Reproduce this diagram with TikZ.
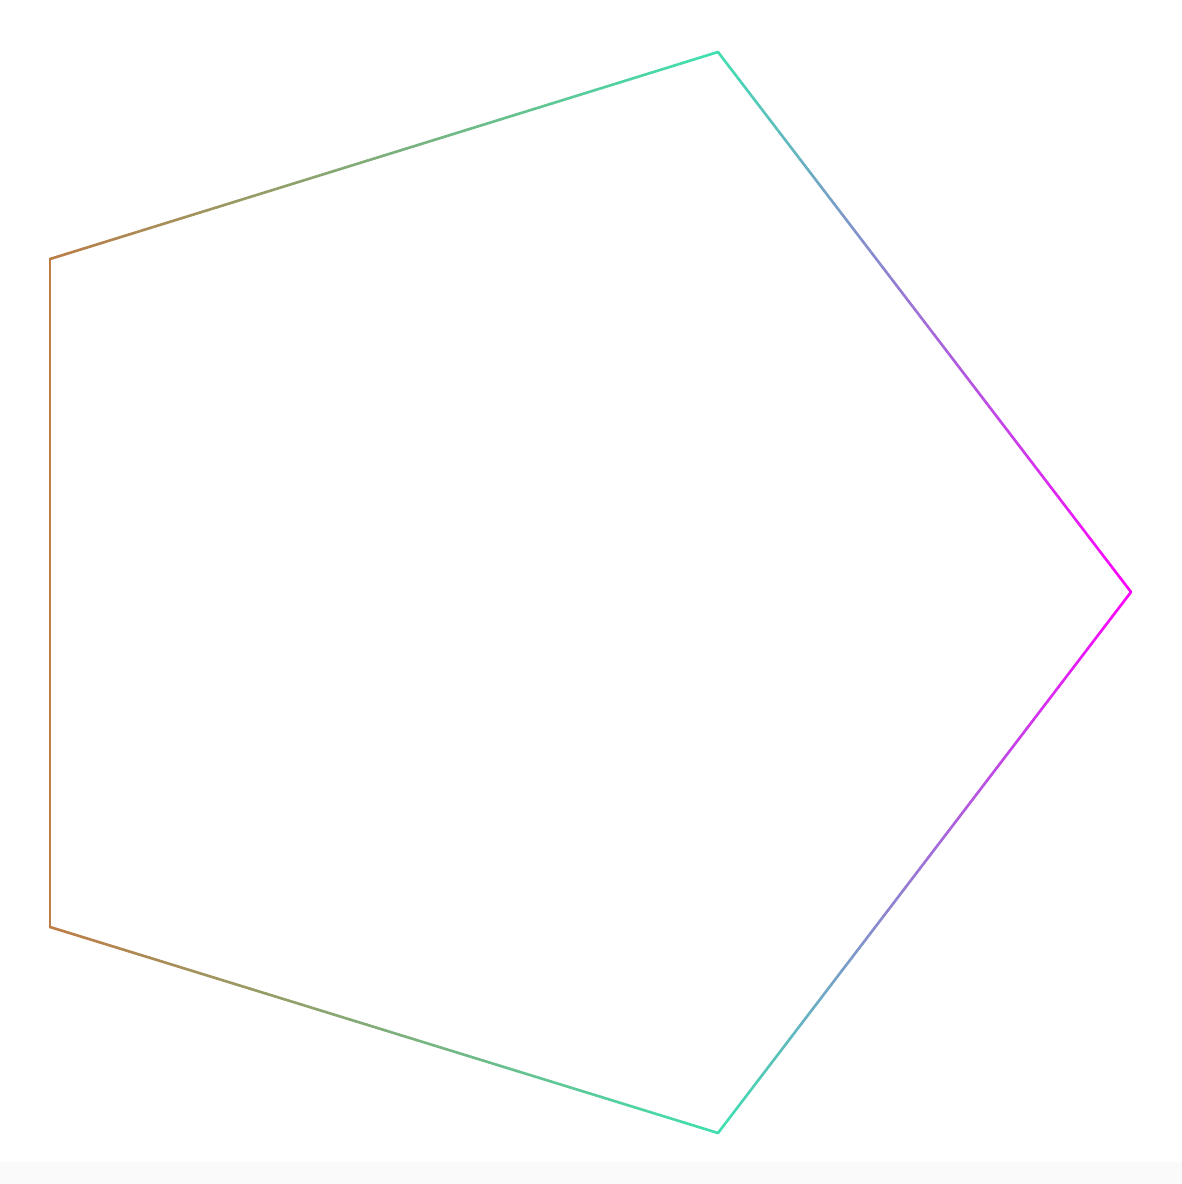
\documentclass[tikz,border=0pt]{standalone}
\usepackage{xcolor}
\usepackage{tikz}
\usetikzlibrary{
  calc
}
\definecolor{peruBrown}{RGB}{190,125,70}
\definecolor{aquaGreen}{RGB}{64,224,176}
\definecolor{hotMagenta}{RGB}{255,0,255}
\tikzset{
  edgeseg/.style={line width=0.75pt, line cap=round}
}

\begin{document}
\begin{tikzpicture}[x=0.01cm, y=-0.01cm]
\useasboundingbox (0,0) rectangle (1182,1184);
\fill[black!2] (0,1162) rectangle (1182,1184);
% pentagon corners
\coordinate (top) at (718,52);
\coordinate (rt) at (1131,592);
\coordinate (bot) at (718,1133);
\coordinate (ll) at (50,927);
\coordinate (ul) at (50,259);
% left side is one colour
\draw[edgeseg, peruBrown] (ll) -- (ul);
% the other sides shade from one corner colour to the next
\foreach \a/\b/\ca/\cb in {ul/top/peruBrown/aquaGreen, top/rt/aquaGreen/hotMagenta,
    rt/bot/hotMagenta/aquaGreen, bot/ll/aquaGreen/peruBrown} {
  \foreach \i in {0,...,39} {
    \pgfmathtruncatemacro{\w}{100-(\i+0.5)*2.5}
    \colorlet{segc}{\ca!\w!\cb}
    \draw[edgeseg, segc] ($(\a)!{\i/40}!(\b)$) -- ($(\a)!{(\i+1)/40}!(\b)$);
  }
}
\end{tikzpicture}
\end{document}
